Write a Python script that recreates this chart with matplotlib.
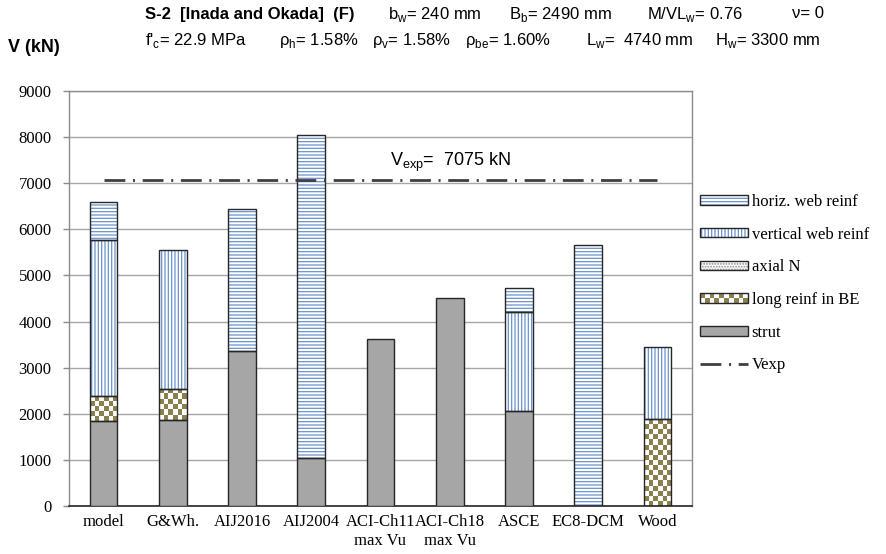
import numpy as np
import matplotlib
matplotlib.use("Agg")
import matplotlib.pyplot as plt
from matplotlib.patches import Rectangle, Patch
from matplotlib.lines import Line2D
from matplotlib.colors import ListedColormap
from matplotlib.legend_handler import HandlerBase

# ---------------- data ----------------
categories = ["model", "G&Wh.", "AIJ2016", "AIJ2004", "ACI-Ch11\nmax Vu",
              "ACI-Ch18\nmax Vu", "ASCE", "EC8-DCM", "Wood"]
strut = [1850, 1860, 3360, 1040, 3620, 4510, 2060, 0, 0]
long_reinf_be = [540, 680, 0, 0, 0, 0, 0, 0, 1880]
axial_n = [0, 0, 0, 0, 0, 0, 0, 0, 0]
vertical_web = [3380, 3010, 0, 0, 0, 0, 2150, 0, 1560]
horiz_web = [820, 0, 3080, 7000, 0, 0, 520, 5660, 0]
v_exp = 7075
y_ticks = [0, 1000, 2000, 3000, 4000, 5000, 6000, 7000, 8000, 9000]
legend_labels = ["horiz. web reinf", "vertical web reinf", "axial N",
                 "long reinf in BE", "strut", "Vexp"]

# ---------------- style ----------------
W, H = 887, 554
SERIF = ["Liberation Serif", "DejaVu Serif"]
SANS = ["Liberation Sans", "DejaVu Sans"]
plt.rcParams["mathtext.fontset"] = "custom"
plt.rcParams["hatch.linewidth"] = 0.9
plt.rcParams["lines.scale_dashes"] = False

STRUT_C = "#a6a6a6"
EDGE_C = "#262626"
BLUE = "#6a93cc"
OLIVE = "#8c7f4e"
GRID_C = "#a6a6a6"

fig = plt.figure(figsize=(W / 100, H / 100), dpi=100)
ax = fig.add_axes([69 / W, 48 / H, (692 - 69) / W, 415 / H])

x = np.arange(len(categories))
bw = 0.4
bottom = np.zeros(len(categories))


def lws(vals):
    return [1.0 if v > 0 else 0.0 for v in vals]


# strut
vals = np.asarray(strut, float)
ax.bar(x, vals, bw, bottom, color=STRUT_C, edgecolor=EDGE_C, linewidth=lws(vals), zorder=3)
bottom += vals

# long reinf in BE (checker texture)
vals = np.asarray(long_reinf_be, float)
bars = ax.bar(x, vals, bw, bottom, color="white", linewidth=0, zorder=2)
checker_cmap = ListedColormap(["white", OLIVE])
for rect in bars:
    h = rect.get_height()
    if h <= 0:
        continue
    x0, y0 = rect.get_xy()
    w = rect.get_width()
    nx = 6
    ny = max(1, int(round(h / 112)))
    arr = np.add.outer(np.arange(ny), np.arange(nx)) % 2
    im = ax.imshow(arr, cmap=checker_cmap, extent=(x0, x0 + w, y0, y0 + h),
                   origin="lower", aspect="auto", interpolation="nearest", zorder=2.5)
    im.set_clip_path(rect)
ax.bar(x, vals, bw, bottom, fill=False, edgecolor=EDGE_C, linewidth=lws(vals), zorder=3)
bottom += vals

# axial N
vals = np.asarray(axial_n, float)
ax.bar(x, vals, bw, bottom, color="white", edgecolor="#8c8c8c", hatch="......", linewidth=0, zorder=2)
ax.bar(x, vals, bw, bottom, fill=False, edgecolor=EDGE_C, linewidth=lws(vals), zorder=3)
bottom += vals

# vertical web reinf
vals = np.asarray(vertical_web, float)
ax.bar(x, vals, bw, bottom, color="white", edgecolor=BLUE, hatch="|||||", linewidth=0, zorder=2)
ax.bar(x, vals, bw, bottom, fill=False, edgecolor=EDGE_C, linewidth=lws(vals), zorder=3)
bottom += vals

# horizontal web reinf
vals = np.asarray(horiz_web, float)
ax.bar(x, vals, bw, bottom, color="white", edgecolor=BLUE, hatch="-----", linewidth=0, zorder=2)
ax.bar(x, vals, bw, bottom, fill=False, edgecolor=EDGE_C, linewidth=lws(vals), zorder=3)
bottom += vals

# Vexp line
VEXP_DASH = (15, 5.5, 1.5, 5.5)
ax.plot(x, np.full(len(x), v_exp), color="#3f3f3f", lw=2.0,
        dashes=VEXP_DASH, zorder=4)

# axes
ax.set_xlim(-0.5, len(categories) - 0.5)
ax.set_ylim(y_ticks[0], y_ticks[-1])
ax.set_yticks(y_ticks)
ax.set_xticks(x)
ax.set_xticklabels(categories, fontfamily=SERIF, fontsize=12, linespacing=1.25)
ax.set_yticklabels([str(v) for v in y_ticks], fontfamily=SERIF, fontsize=12)
ax.tick_params(axis="x", length=0, pad=5.5)
ax.tick_params(axis="y", length=4.5, width=1, color="#8c8c8c", pad=8)
ax.yaxis.grid(True, color=GRID_C, lw=1)
ax.set_axisbelow(True)
for s in ["left", "right", "top"]:
    ax.spines[s].set_color("#8c8c8c")
    ax.spines[s].set_linewidth(1)
ax.spines["bottom"].set_color("#262626")
ax.spines["bottom"].set_linewidth(1.2)


# legend
class BoxHandler(HandlerBase):
    def __init__(self, face, hatch=None, hcolor=None, checker=False, edge=EDGE_C):
        super().__init__()
        self.face, self.hatch, self.hcolor = face, hatch, hcolor
        self.checker, self.edge = checker, edge

    def create_artists(self, legend, orig_handle, xdescent, ydescent, width,
                       height, fontsize, trans):
        x0, y0 = -xdescent, -ydescent
        arts = [Rectangle((x0, y0), width, height, facecolor=self.face,
                          edgecolor=self.hcolor if self.hcolor else self.face,
                          hatch=self.hatch, lw=0, transform=trans)]
        if self.checker:
            nx, ny = 10, 2
            sw, sh = width / nx, height / ny
            for i in range(nx):
                for j in range(ny):
                    if (i + j) % 2:
                        arts.append(Rectangle((x0 + i * sw, y0 + j * sh), sw, sh,
                                              facecolor=OLIVE, lw=0, transform=trans))
        arts.append(Rectangle((x0, y0), width, height, fill=False,
                              edgecolor=self.edge, lw=1, transform=trans))
        return arts


h_horiz = Patch(label=legend_labels[0])
h_vert = Patch(label=legend_labels[1])
h_axial = Patch(label=legend_labels[2])
h_be = Patch(label=legend_labels[3])
h_strut = Patch(label=legend_labels[4])
h_vexp = Line2D([], [], color="#3f3f3f", lw=2.0, dashes=VEXP_DASH, label=legend_labels[5])
handler_map = {
    h_horiz: BoxHandler("white", "-----", BLUE),
    h_vert: BoxHandler("white", "|||||", BLUE),
    h_axial: BoxHandler("white", "......", "#8c8c8c"),
    h_be: BoxHandler("white", checker=True),
    h_strut: BoxHandler(STRUT_C),
}
fig.legend(handles=[h_horiz, h_vert, h_axial, h_be, h_strut, h_vexp],
           labels=legend_labels, handler_map=handler_map,
           loc="upper left", bbox_to_anchor=(700 / W, 1 - 194 / H),
           frameon=False, prop={"family": SERIF, "size": 12},
           handlelength=2.9, handleheight=0.5, labelspacing=1.0,
           handletextpad=0.2, borderpad=0, borderaxespad=0)

# texts
def ftext(px, py, s, **kw):
    fig.text(px / W, 1 - py / H, s, ha="left", va="center", **kw)

TS = 12
ftext(145, 14, "S-2  [Inada and Okada]  (F)", fontfamily=SANS, fontsize=TS, fontweight="bold")
ftext(388, 14, r"b$_\mathregular{w}$= 240 mm", fontfamily=SANS, fontsize=TS)
ftext(509, 14, r"B$_\mathregular{b}$= 2490 mm", fontfamily=SANS, fontsize=TS)
ftext(647, 14, r"M/VL$_\mathregular{w}$= 0.76", fontfamily=SANS, fontsize=TS)
ftext(792, 14, "ν= 0", fontfamily=SANS, fontsize=TS)
ftext(145, 40, r"f'$_\mathregular{c}$= 22.9 MPa", fontfamily=SANS, fontsize=TS)
ftext(279, 40, r"ρ$_\mathregular{h}$= 1.58%", fontfamily=SANS, fontsize=TS)
ftext(372, 40, r"ρ$_\mathregular{v}$= 1.58%", fontfamily=SANS, fontsize=TS)
ftext(465, 40, r"ρ$_\mathregular{be}$= 1.60%", fontfamily=SANS, fontsize=TS)
ftext(586, 40, r"L$_\mathregular{w}$=  4740 mm", fontfamily=SANS, fontsize=TS)
ftext(715, 40, r"H$_\mathregular{w}$= 3300 mm", fontfamily=SANS, fontsize=TS)
ftext(8, 48, "V (kN)", fontfamily=SANS, fontsize=13, fontweight="bold")
ftext(390, 162, r"V$_\mathregular{exp}$=  7075 kN", fontfamily=SANS, fontsize=13)

fig.savefig("out.png", dpi=100)
